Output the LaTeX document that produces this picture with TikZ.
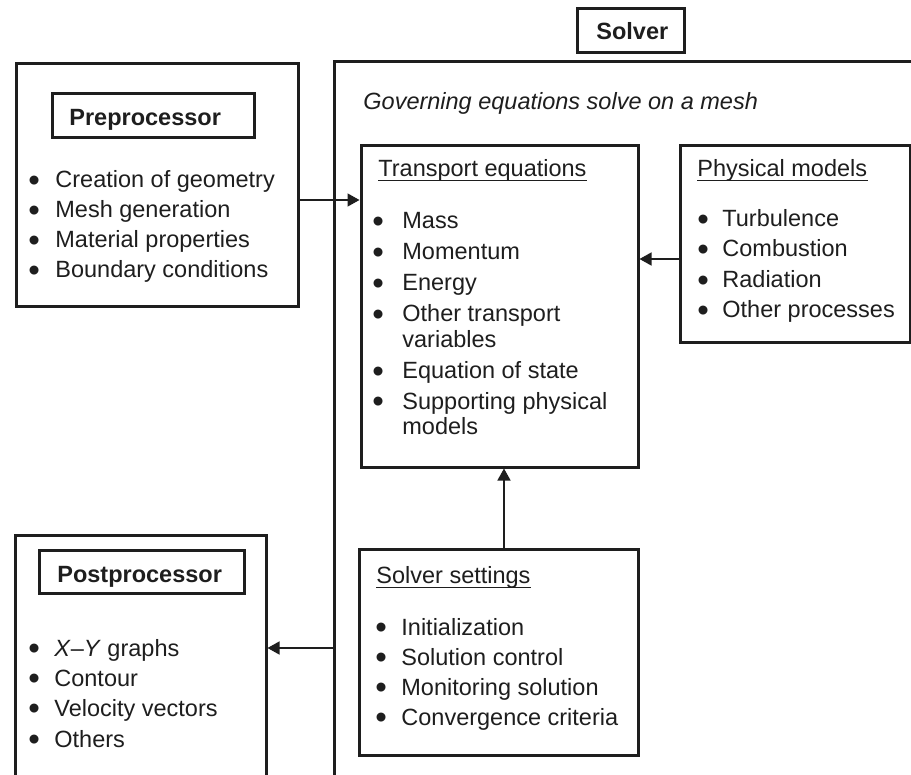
\documentclass[tikz,border=0pt]{standalone}
\usepackage{fontspec}
\setmainfont{Liberation Sans}
\usetikzlibrary{fit,arrows.meta}
\definecolor{ink}{RGB}{30,30,30}
\begin{document}
\begin{tikzpicture}[x=0.5pt,y=-0.5pt,
  box/.style={draw=ink,line width=1.5pt,inner sep=0pt},
  txt/.style={inner sep=0pt,anchor=base west,text=ink,font=\fontsize{11.75}{14}\selectfont},
  bul/.style={inner sep=0pt,anchor=base west,text=ink,font=\fontsize{16.5}{18}\selectfont,xshift=-1pt,yshift=-1.6pt},
  arr/.style={draw=ink,line width=0.7pt,-{Triangle[length=6pt,width=6.5pt]}},
  uline/.style={draw=ink,line width=0.5pt}]
\useasboundingbox (0,0) rectangle (911,775);
\clip (0,0) rectangle (911,775);
\fill[white] (0,0) rectangle (911,775);

% ---------- boxes ----------
\node[box,fit={(16,64) (298,307)}] (pre) {};
\node[box,fit={(52,94) (254,138)}] (prelbl) {};
\node[box,fit={(334,62) (960,820)}] (solver) {};
\node[box,fit={(577,9) (684,53)}] (solverlbl) {};
\node[box,fit={(361,146) (638,467)}] (trans) {};
\node[box,fit={(680,146) (910,343)}] (phys) {};
\node[box,fit={(359,549) (638,755)}] (sset) {};
\node[box,fit={(15,535) (266,820)}] (post) {};
\node[box,fit={(39,550) (244,593)}] (postlbl) {};

% ---------- labels ----------
\node[txt] (pretitle) at (69,126) {\bfseries Preprocessor};
\node[txt] (solvertitle) at (596,40) {\bfseries Solver};
\node[txt] (posttitle) at (57,582) {\bfseries Postprocessor};
\node[txt] (gov) at (363,110) {\itshape Governing equations solve on a mesh};

% ---------- preprocessor list ----------
\node[bul] (pb1) at (30,188) {\textbullet};
\node[txt] (pt1) at (55,188) {Creation of geometry};
\node[bul] (pb2) at (30,218) {\textbullet};
\node[txt] (pt2) at (55,218) {Mesh generation};
\node[bul] (pb3) at (30,248) {\textbullet};
\node[txt] (pt3) at (55,248) {Material properties};
\node[bul] (pb4) at (30,278) {\textbullet};
\node[txt] (pt4) at (55,278) {Boundary conditions};

% ---------- transport equations ----------
\node[txt] (tt) at (378,177) {Transport equations};
\draw[uline] ([yshift=-2pt]tt.base west) -- ([yshift=-2pt]tt.base east);
\node[bul] (tb1) at (374,229) {\textbullet};
\node[txt] (tt1) at (402,229) {Mass};
\node[bul] (tb2) at (374,260) {\textbullet};
\node[txt] (tt2) at (402,260) {Momentum};
\node[bul] (tb3) at (374,291) {\textbullet};
\node[txt] (tt3) at (402,291) {Energy};
\node[bul] (tb4) at (374,322) {\textbullet};
\node[txt] (tt4) at (402,322) {Other transport};
\node[txt] (tt4b) at (402,348) {variables};
\node[bul] (tb5) at (374,379) {\textbullet};
\node[txt] (tt5) at (402,379) {Equation of state};
\node[bul] (tb6) at (374,409) {\textbullet};
\node[txt] (tt6) at (402,409) {Supporting physical};
\node[txt] (tt6b) at (402,435) {models};

% ---------- physical models ----------
\node[txt] (pm) at (697,177) {Physical models};
\draw[uline] ([yshift=-2pt]pm.base west) -- ([yshift=-2pt]pm.base east);
\node[bul] (mb1) at (699,227) {\textbullet};
\node[txt] (mt1) at (722,227) {Turbulence};
\node[bul] (mb2) at (699,257) {\textbullet};
\node[txt] (mt2) at (722,257) {Combustion};
\node[bul] (mb3) at (699,288) {\textbullet};
\node[txt] (mt3) at (722,288) {Radiation};
\node[bul] (mb4) at (699,318) {\textbullet};
\node[txt] (mt4) at (722,318) {Other processes};

% ---------- solver settings ----------
\node[txt] (ss) at (376,583) {Solver settings};
\draw[uline] ([yshift=-2pt]ss.base west) -- ([yshift=-2pt]ss.base east);
\node[bul] (sb1) at (377,635) {\textbullet};
\node[txt] (st1) at (401,635) {Initialization};
\node[bul] (sb2) at (377,665) {\textbullet};
\node[txt] (st2) at (401,665) {Solution control};
\node[bul] (sb3) at (377,695) {\textbullet};
\node[txt] (st3) at (401,695) {Monitoring solution};
\node[bul] (sb4) at (377,725) {\textbullet};
\node[txt] (st4) at (401,725) {Convergence criteria};

% ---------- postprocessor list ----------
\node[bul] (ob1) at (30,656) {\textbullet};
\node[txt] (ot1) at (54,656) {\textit{X}–\textit{Y} graphs};
\node[bul] (ob2) at (30,686) {\textbullet};
\node[txt] (ot2) at (54,686) {Contour};
\node[bul] (ob3) at (30,716) {\textbullet};
\node[txt] (ot3) at (54,716) {Velocity vectors};
\node[bul] (ob4) at (30,747) {\textbullet};
\node[txt] (ot4) at (54,747) {Others};

% ---------- connectors ----------
\coordinate (ya) at (0,200);
\coordinate (yb) at (0,259);
\coordinate (xc) at (504,0);
\coordinate (yd) at (0,648);
\draw[arr] (pre.east |- ya) -- (trans.west |- ya);
\draw[arr] (phys.west |- yb) -- (trans.east |- yb);
\draw[arr] (sset.north -| xc) -- (trans.south -| xc);
\draw[arr] (solver.west |- yd) -- (post.east |- yd);
\end{tikzpicture}
\end{document}
